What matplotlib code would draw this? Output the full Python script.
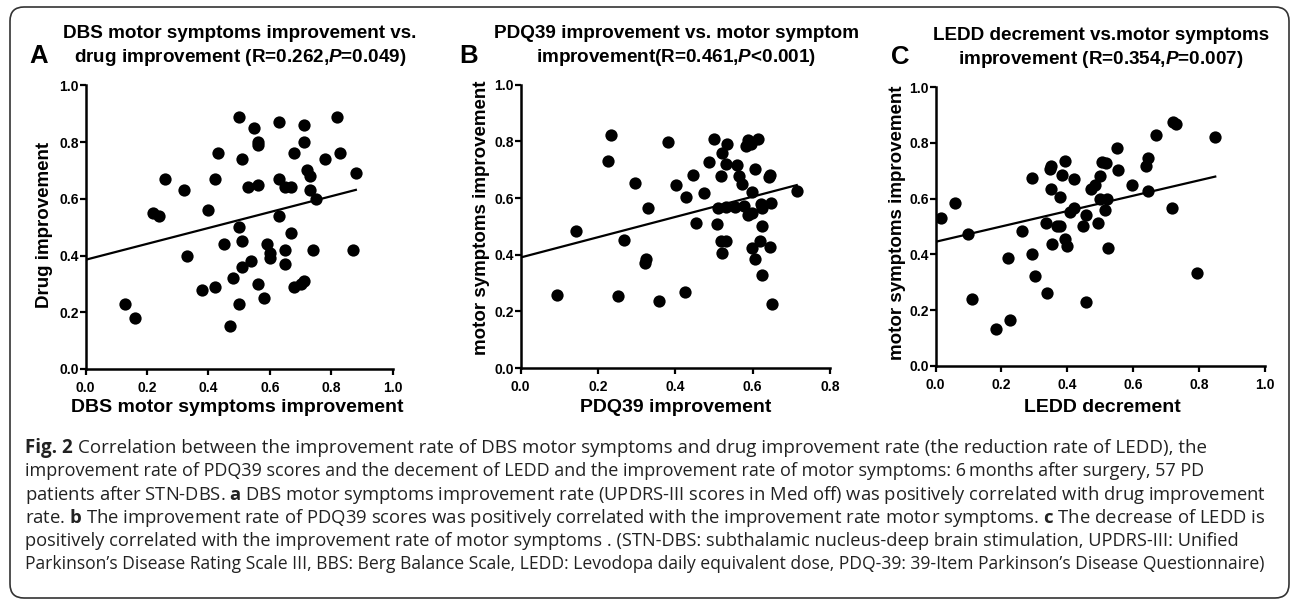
import numpy as np
import matplotlib
matplotlib.use("Agg")
import matplotlib.pyplot as plt
from matplotlib.patches import FancyBboxPatch

plt.rcParams["font.family"] = ["Liberation Sans", "DejaVu Sans"]
plt.rcParams["mathtext.fontset"] = "custom"
plt.rcParams["mathtext.it"] = "Liberation Sans:italic:bold"
plt.rcParams["mathtext.bf"] = "Open Sans:bold"

# panel A: DBS motor symptoms improvement vs drug improvement
a_x = [0.13, 0.16, 0.22, 0.24, 0.26, 0.32, 0.33, 0.38, 0.40, 0.42, 0.42, 0.43,
       0.45, 0.47, 0.48, 0.50, 0.50, 0.50, 0.51, 0.51, 0.51, 0.53, 0.54, 0.55,
       0.56, 0.56, 0.56, 0.56, 0.58, 0.59, 0.60, 0.60, 0.63, 0.63, 0.63, 0.65,
       0.65, 0.65, 0.67, 0.67, 0.68, 0.68, 0.70, 0.71, 0.71, 0.71, 0.72, 0.73,
       0.73, 0.74, 0.75, 0.78, 0.82, 0.83, 0.87, 0.88]
a_y = [0.23, 0.18, 0.55, 0.54, 0.67, 0.63, 0.40, 0.28, 0.56, 0.29, 0.67, 0.76,
       0.44, 0.15, 0.32, 0.89, 0.50, 0.23, 0.45, 0.74, 0.36, 0.64, 0.38, 0.85,
       0.79, 0.80, 0.65, 0.30, 0.25, 0.44, 0.39, 0.41, 0.87, 0.67, 0.54, 0.37,
       0.42, 0.64, 0.64, 0.48, 0.76, 0.29, 0.30, 0.31, 0.86, 0.80, 0.70, 0.68,
       0.63, 0.42, 0.60, 0.74, 0.89, 0.76, 0.42, 0.69]
a_fit = (0.385, 0.280)  # intercept, slope

# panel B: PDQ39 improvement vs motor symptom improvement
b_x = [0.095, 0.144, 0.227, 0.234, 0.252, 0.268, 0.296, 0.323, 0.325, 0.329,
       0.357, 0.382, 0.401, 0.424, 0.429, 0.445, 0.454, 0.474, 0.487, 0.500,
       0.507, 0.510, 0.519, 0.520, 0.522, 0.519, 0.530, 0.534, 0.532, 0.532,
       0.554, 0.560, 0.566, 0.572, 0.577, 0.584, 0.587, 0.587, 0.597, 0.599,
       0.598, 0.599, 0.607, 0.607, 0.613, 0.618, 0.621, 0.624, 0.624, 0.625,
       0.643, 0.646, 0.646, 0.648, 0.649, 0.714]
b_y = [0.259, 0.484, 0.731, 0.821, 0.254, 0.452, 0.653, 0.369, 0.385, 0.566,
       0.235, 0.798, 0.646, 0.267, 0.602, 0.682, 0.513, 0.619, 0.726, 0.808,
       0.508, 0.566, 0.447, 0.758, 0.407, 0.679, 0.447, 0.791, 0.719, 0.569,
       0.569, 0.715, 0.679, 0.648, 0.573, 0.784, 0.805, 0.540, 0.791, 0.620,
       0.422, 0.546, 0.385, 0.701, 0.808, 0.447, 0.579, 0.564, 0.500, 0.329,
       0.673, 0.681, 0.428, 0.584, 0.226, 0.626]
b_fit = (0.390, 0.358)

# panel C: LEDD decrement vs motor symptoms improvement
c_x = [0.018, 0.058, 0.099, 0.110, 0.183, 0.221, 0.226, 0.264, 0.293, 0.294,
       0.303, 0.335, 0.338, 0.346, 0.351, 0.351, 0.355, 0.368, 0.377, 0.378,
       0.383, 0.392, 0.394, 0.398, 0.408, 0.419, 0.419, 0.447, 0.456, 0.457,
       0.472, 0.485, 0.494, 0.499, 0.499, 0.506, 0.516, 0.513, 0.520, 0.523,
       0.550, 0.553, 0.597, 0.638, 0.645, 0.645, 0.668, 0.718, 0.721, 0.731,
       0.795, 0.849]
c_y = [0.529, 0.586, 0.473, 0.241, 0.131, 0.388, 0.164, 0.485, 0.673, 0.402,
       0.321, 0.513, 0.261, 0.707, 0.717, 0.634, 0.438, 0.503, 0.503, 0.606,
       0.686, 0.735, 0.454, 0.430, 0.551, 0.565, 0.669, 0.503, 0.229, 0.541,
       0.634, 0.649, 0.513, 0.681, 0.600, 0.733, 0.727, 0.559, 0.598, 0.422,
       0.783, 0.703, 0.649, 0.717, 0.745, 0.628, 0.829, 0.565, 0.877, 0.868,
       0.332, 0.823]
c_fit = (0.445, 0.276)

W, H = 1292, 601
fig = plt.figure(figsize=(W / 100, H / 100), dpi=100)


def px(x0, y0, x1, y1):
    # pixel box (top-left origin) -> figure fraction rect
    return [x0 / W, 1 - y1 / H, (x1 - x0) / W, (y1 - y0) / H]


panels = [
    dict(rect=px(85.5, 85.3, 392.7, 369), x=a_x, y=a_y, fit=a_fit, xmax=1.0,
         letter="A", letter_xy=(39, 56), title_x=240, title_y=(34, 57),
         title=["DBS motor symptoms improvement vs.",
                "drug improvement (R=0.262,$P$=0.049)"],
         xlabel="DBS motor symptoms improvement", xlabel_xy=(237, 408),
         ylabel="Drug improvement", ylabel_xy=(45, 225)),
    dict(rect=px(520.5, 84.7, 830, 368), x=b_x, y=b_y, fit=b_fit, xmax=0.8,
         letter="B", letter_xy=(469, 56), title_x=676, title_y=(33, 58),
         title=["PDQ39 improvement vs. motor symptom",
                "improvement(R=0.461,$P$<0.001)"],
         xlabel="PDQ39 improvement", xlabel_xy=(676, 408),
         ylabel="motor symptoms improvement", ylabel_xy=(482, 217.5)),
    dict(rect=px(935.5, 87.3, 1265, 365.7), x=c_x, y=c_y, fit=c_fit, xmax=1.0,
         letter="C", letter_xy=(900, 57), title_x=1101, title_y=(35, 59),
         title=["LEDD decrement vs.motor symptoms",
                "improvement (R=0.354,$P$=0.007)"],
         xlabel="LEDD decrement", xlabel_xy=(1102, 408),
         ylabel="motor symptoms improvement", ylabel_xy=(897, 222.5)),
]

for p in panels:
    ax = fig.add_axes(p["rect"])
    ax.scatter(p["x"], p["y"], s=78, color="black", zorder=3, linewidths=0)
    xs = np.array([0, max(p["x"])])
    ax.plot(xs, p["fit"][0] + p["fit"][1] * xs, color="black", lw=1.6, zorder=2)
    ax.set_xlim(0, p["xmax"])
    ax.set_ylim(0, 1.0)
    ax.set_xticks(np.arange(0, p["xmax"] + 0.01, 0.2))
    ax.set_yticks(np.arange(0, 1.01, 0.2))
    ax.xaxis.set_major_formatter(plt.FormatStrFormatter("%.1f"))
    ax.yaxis.set_major_formatter(plt.FormatStrFormatter("%.1f"))
    for s in ["top", "right"]:
        ax.spines[s].set_visible(False)
    for s in ["left", "bottom"]:
        ax.spines[s].set_linewidth(1.8)
    ax.tick_params(direction="out", length=4, width=1.6, labelsize=10)
    ax.tick_params(axis="x", pad=4.5)
    ax.tick_params(axis="y", pad=1)
    for lab in ax.get_xticklabels() + ax.get_yticklabels():
        lab.set_fontweight("bold")
    ax.patch.set_visible(False)

    fig.text(p["xlabel_xy"][0] / W, 1 - p["xlabel_xy"][1] / H, p["xlabel"],
             ha="center", va="center", fontsize=14, fontweight="bold")
    fig.text(p["ylabel_xy"][0] / W, 1 - p["ylabel_xy"][1] / H, p["ylabel"],
             ha="center", va="center", rotation=90, fontsize=13.5, fontweight="bold")
    for line, ty in zip(p["title"], p["title_y"]):
        fig.text(p["title_x"] / W, 1 - ty / H, line, ha="center", va="center",
                 fontsize=13.6, fontweight="bold")
    fig.text(p["letter_xy"][0] / W, 1 - p["letter_xy"][1] / H, p["letter"],
             ha="center", va="center", fontsize=18.5, fontweight="bold")

cap_head = "Fig. 2"
caption = [
    "Correlation between the improvement rate of DBS motor symptoms and drug improvement rate (the reduction rate of LEDD), the",
    "improvement rate of PDQ39 scores and the decement of LEDD and the improvement rate of motor symptoms: 6\u2009months after surgery, 57 PD",
    r"patients after STN-DBS. $\mathbf{a}$ DBS motor symptoms improvement rate (UPDRS-III scores in Med off) was positively correlated with drug improvement",
    r"rate. $\mathbf{b}$ The improvement rate of PDQ39 scores was positively correlated with the improvement rate motor symptoms. $\mathbf{c}$ The decrease of LEDD is",
    "positively correlated with the improvement rate of motor symptoms . (STN-DBS: subthalamic nucleus-deep brain stimulation, UPDRS-III: Unified",
    "Parkinson\u2019s Disease Rating Scale III, BBS: Berg Balance Scale, LEDD: Levodopa daily equivalent dose, PDQ-39: 39-Item Parkinson\u2019s Disease Questionnaire)",
]
cap_base = [453, 476.5, 500, 523, 546, 569]
cap_right = [1203, 1203, 1262, 1261, 1233, 1262]
cap_left = 25
cap_family = ["Open Sans", "DejaVu Sans"]

renderer = fig.canvas.get_renderer()


def width_px(s, size, **kw):
    t = fig.text(0, 0, s, fontsize=size, family=cap_family, **kw)
    w = t.get_window_extent(renderer).width
    t.remove()
    return w


head_w = width_px(cap_head, 12, fontweight="bold")
space_w = width_px("a a", 12) - width_px("aa", 12)

# each caption line is sized so that it spans the same width as in the figure
for i, (line, yb) in enumerate(zip(caption, cap_base)):
    w = width_px(line, 12)
    if i == 0:
        w += head_w + space_w
    size = 12 * (cap_right[i] - cap_left) / w
    k = size / 12
    x0 = cap_left
    if i == 0:
        fig.text(x0 / W, 1 - yb / H, cap_head, ha="left", va="baseline",
                 fontsize=size, fontweight="bold", family=cap_family, color="#222222")
        x0 += (head_w + space_w) * k
    fig.text(x0 / W, 1 - yb / H, line, ha="left", va="baseline", fontsize=size,
             family=cap_family, color="#222222")

box = FancyBboxPatch((0.1, 0.03), (1289 - 10) / 100, (598 - 7) / 100,
                     boxstyle="round,pad=0,rounding_size=0.14",
                     transform=fig.dpi_scale_trans, fill=False,
                     edgecolor="#333333", linewidth=1.2)
fig.patches.append(box)

fig.savefig("out.png", dpi=100)
